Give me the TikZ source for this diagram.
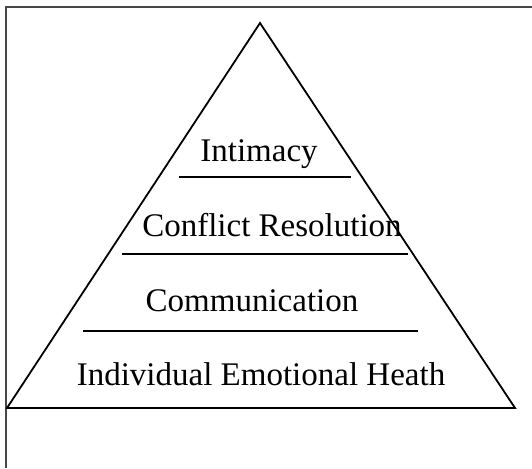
\documentclass[tikz,border=0pt]{standalone}
\usepackage{fontspec}
\setmainfont{Liberation Serif}
\begin{document}
\begin{tikzpicture}[x=1pt,y=1pt,
  frame/.style={draw=black!72,line width=2.2pt},
  edge/.style={draw=black,line width=1.8pt},
  lbl/.style={anchor=base,inner sep=0pt,font=\fontsize{33}{37}\selectfont}]
\useasboundingbox (0,0) rectangle (532,468);
% frame
\coordinate (fl) at (6,0);
\coordinate (ft) at (6,461);
\coordinate (fr) at (532,461);
\draw[frame] (fl) -- (ft) -- (fr);
% triangle
\coordinate (apex) at (260,445);
\coordinate (bl) at (7,60);
\coordinate (br) at (515,60);
\draw[edge,line join=miter] (apex) -- (bl) -- (br) -- cycle;
% separators
\coordinate (a1) at (179,291); \coordinate (a2) at (351,291);
\coordinate (b1) at (122,214); \coordinate (b2) at (408,214);
\coordinate (c1) at (83,137);  \coordinate (c2) at (418,137);
\draw[edge] (a1) -- (a2);
\draw[edge] (b1) -- (b2);
\draw[edge] (c1) -- (c2);
% labels
\node[lbl] (int) at (259,306) {Intimacy};
\node[lbl] (con) at (272,231) {Conflict Resolution};
\node[lbl] (com) at (252,156) {Communication};
\node[lbl] (ind) at (261,82) {Individual Emotional Heath};
\end{tikzpicture}
\end{document}
